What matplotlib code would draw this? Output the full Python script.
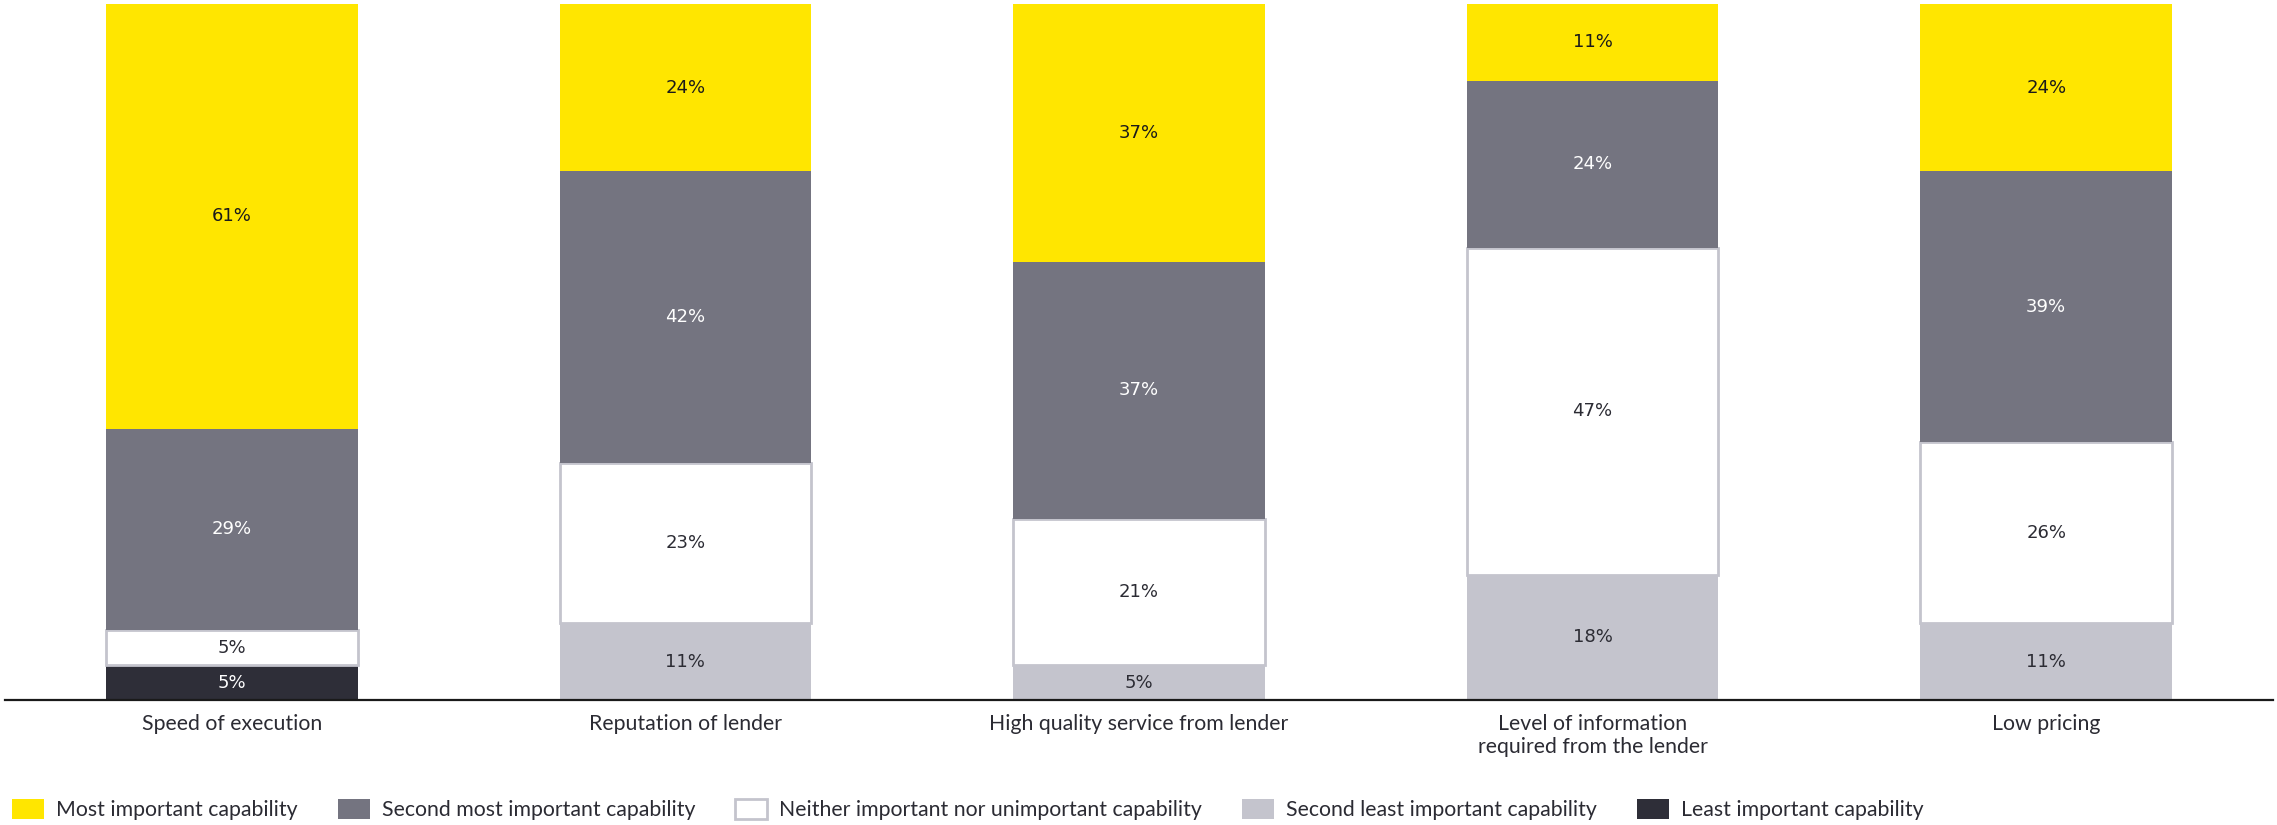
import matplotlib
matplotlib.use("Agg")
import matplotlib.pyplot as plt
import numpy as np
from matplotlib.patches import Patch

categories = [
    "Speed of execution",
    "Reputation of lender",
    "High quality service from lender",
    "Level of information\nrequired from the lender",
    "Low pricing",
]

# stacked from the bottom up
least_important = [5, 0, 0, 0, 0]
second_least = [0, 11, 5, 18, 11]
neither = [5, 23, 21, 47, 26]
second_most = [29, 42, 37, 24, 39]
most_important = [61, 24, 37, 11, 24]

series_names = [
    "Most important capability",
    "Second most important capability",
    "Neither important nor unimportant capability",
    "Second least important capability",
    "Least important capability",
]

YELLOW = "#FFE600"
GREY = "#747480"
LIGHT = "#C4C4CD"
DARK = "#2E2E38"

plt.rcParams["font.family"] = ["Lato", "DejaVu Sans"]

fig = plt.figure(figsize=(22.77, 8.25), dpi=100)
ax = fig.add_axes([5 / 2277, 125 / 825, 2268 / 2277, 696 / 825])

x = np.arange(len(categories))
width = 0.555

stack = [
    (least_important, DARK, "none", "white"),
    (second_least, LIGHT, "none", "#2b2b33"),
    (neither, "white", LIGHT, "#2b2b33"),
    (second_most, GREY, "none", "white"),
    (most_important, YELLOW, "none", "#1a1a1a"),
]
bottom = np.zeros(len(categories))
for vals, color, edge, txt in stack:
    vals = np.asarray(vals, dtype=float)
    if edge == "none":
        bars = ax.bar(x, vals, width, bottom=bottom, color=color, linewidth=0)
    else:
        bars = ax.bar(x, vals, width, bottom=bottom, color=color,
                      edgecolor=edge, linewidth=2)
    labels = [f"{v:.0f}%" if v > 0 else "" for v in vals]
    ax.bar_label(bars, labels=labels, label_type="center", color=txt,
                 fontsize=13, family="DejaVu Sans")
    bottom += vals

ax.set_xlim(-0.5, 4.5)
ax.set_ylim(0, 100)
ax.set_xticks(x)
ax.set_xticklabels(categories, fontsize=15.3, color="#2b2b33")
ax.tick_params(axis="x", length=0, pad=10)
ax.set_yticks([])
for side in ["top", "left", "right"]:
    ax.spines[side].set_visible(False)
ax.spines["bottom"].set_linewidth(1.6)
ax.spines["bottom"].set_color("#1a1a1a")

legend_handles = [
    Patch(facecolor=YELLOW, edgecolor="none"),
    Patch(facecolor=GREY, edgecolor="none"),
    Patch(facecolor="white", edgecolor=LIGHT, linewidth=2),
    Patch(facecolor=LIGHT, edgecolor="none"),
    Patch(facecolor=DARK, edgecolor="none"),
]
fig.legend(
    legend_handles,
    series_names,
    loc="lower left",
    bbox_to_anchor=(12 / 2277, 5 / 825),
    ncol=5,
    frameon=False,
    fontsize=15.3,
    labelcolor="#2b2b33",
    handlelength=1.5,
    handleheight=1.08,
    handletextpad=0.56,
    columnspacing=1.9,
    borderpad=0,
    borderaxespad=0,
)

fig.savefig("out.png", dpi=100)
